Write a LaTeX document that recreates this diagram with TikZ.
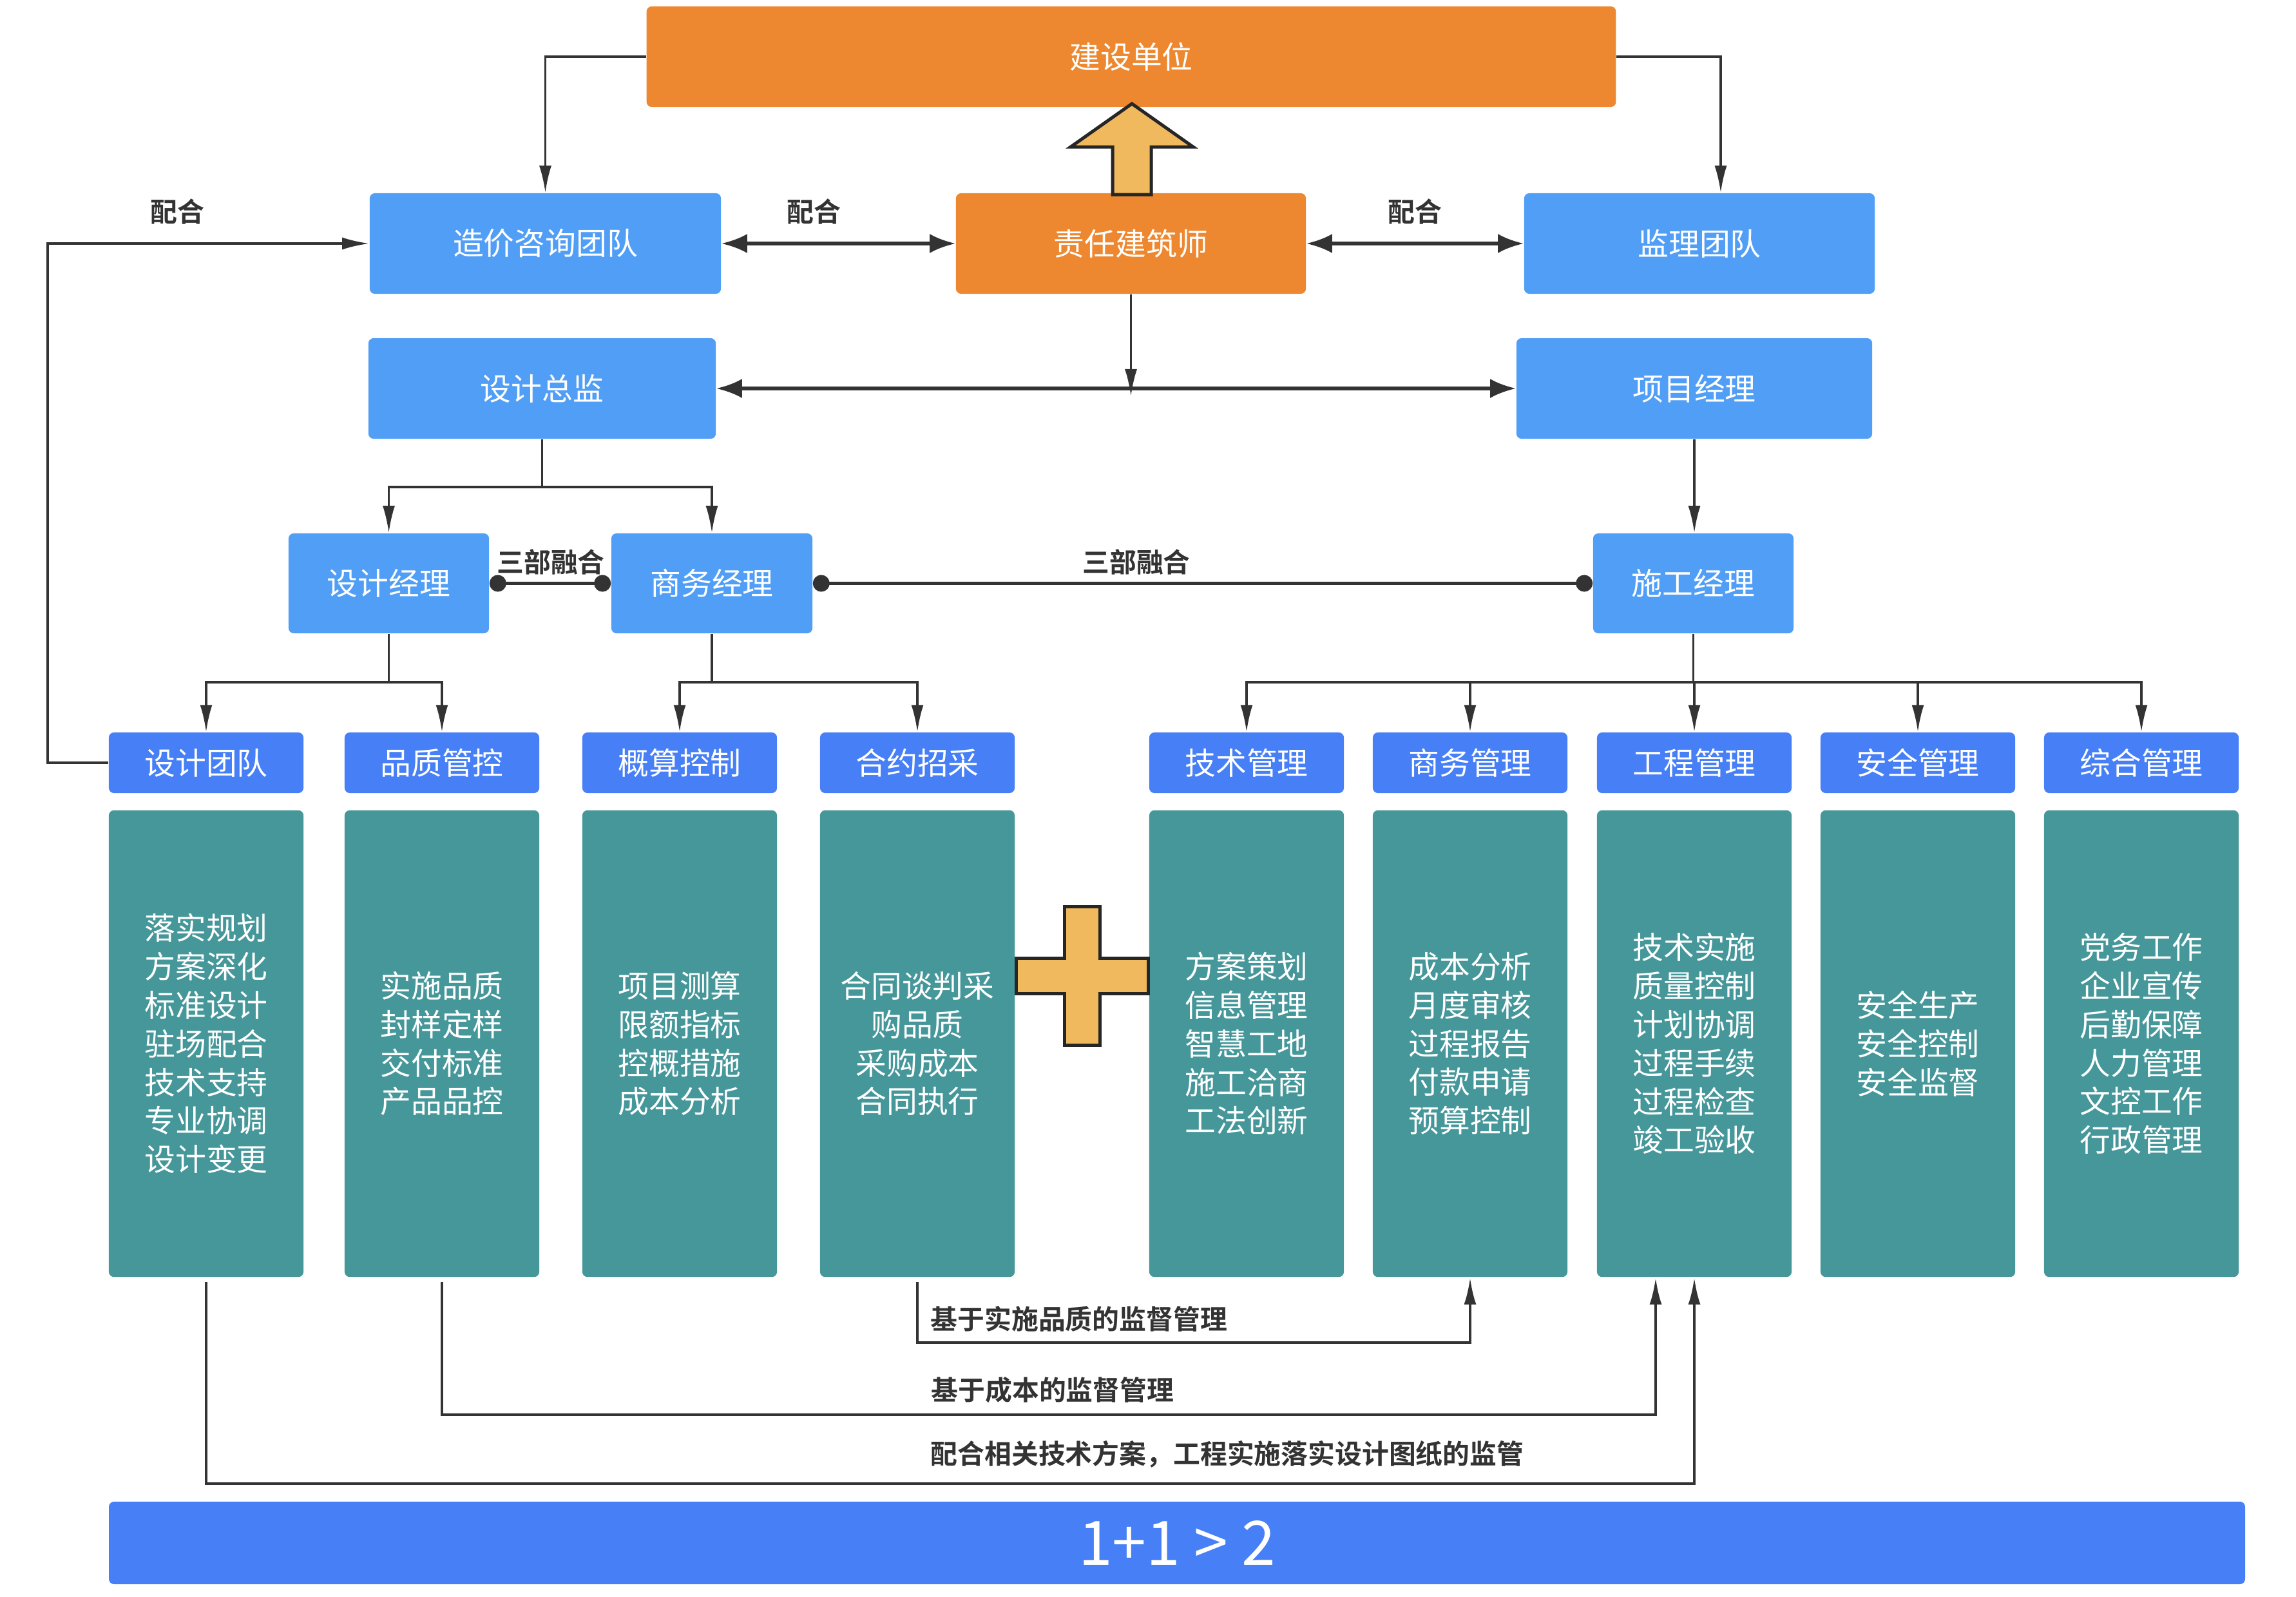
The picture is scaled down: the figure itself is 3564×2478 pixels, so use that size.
\documentclass[tikz,border=0pt]{standalone}
\usepackage{fontspec}
\setmainfont{Noto Sans CJK SC}[BoldFont={Noto Sans CJK SC Bold}]
\usetikzlibrary{arrows.meta,calc}
\definecolor{orangebox}{HTML}{ED8830}
\definecolor{bluebox}{HTML}{519EF6}
\definecolor{headblue}{HTML}{467FF6}
\definecolor{tealbox}{HTML}{45979A}
\definecolor{barblue}{HTML}{477FF6}
\definecolor{plusfill}{HTML}{F1B95E}
\definecolor{linec}{HTML}{333333}
\begin{document}
\begin{tikzpicture}[x=0.01cm,y=-0.01cm,
 base/.style={rounded corners=0.8mm, inner sep=0, text=white, align=center, font=\fontsize{13.6}{17}\selectfont},
 obox/.style={base, fill=orangebox},
 bbox/.style={base, fill=bluebox},
 hbox/.style={base, fill=headblue, minimum width=30.2mm, minimum height=9.4mm},
 tbox/.style={base, fill=tealbox, minimum width=30.2mm, minimum height=72.4mm},
 plain/.style={draw=linec, line width=0.35mm},
 conn/.style={draw=linec, line width=0.35mm, -{Latex[length=4.2mm,width=1.9mm]}},
 dbl/.style={draw=linec, line width=0.55mm, {Latex[length=4mm,width=3mm]}-{Latex[length=4mm,width=3mm]}},
 dotc/.style={draw=linec, line width=0.45mm, {Circle[length=2.6mm]}-{Circle[length=2.6mm]}},
 sup/.style={draw=linec, line width=0.45mm, -{Latex[length=4.2mm,width=1.9mm]}},
 lbl/.style={text=linec, font=\bfseries\fontsize{11.9}{14}\selectfont, inner sep=0},
 shapefill/.style={fill=plusfill, draw=black!85, line width=0.5mm, line join=miter},
]
\useasboundingbox (0,0) rectangle (3564,2478);

% top level
\node[obox, minimum width=150.4mm, minimum height=15.6mm] (jsdw) at (1756,88) {建设单位};
\node[bbox, minimum width=54.5mm, minimum height=15.6mm] (zj) at (846.5,378) {造价咨询团队};
\node[obox, minimum width=54.3mm, minimum height=15.6mm] (zr) at (1755.5,378) {责任建筑师};
\node[bbox, minimum width=54.4mm, minimum height=15.6mm] (jl) at (2638,378) {监理团队};
\node[bbox, minimum width=53.9mm, minimum height=15.6mm] (sjzj) at (841.5,603) {设计总监};
\node[bbox, minimum width=55.2mm, minimum height=15.6mm] (xmjl) at (2630,603) {项目经理};
\node[bbox, minimum width=31.1mm, minimum height=15.5mm] (sjjl) at (603.5,905.5) {设计经理};
\node[bbox, minimum width=31.2mm, minimum height=15.5mm] (swjl) at (1105,905.5) {商务经理};
\node[bbox, minimum width=31.1mm, minimum height=15.5mm] (sgjl) at (2628.5,905.5) {施工经理};

% headers
\node[hbox] (h1) at (320,1184) {设计团队};
\node[hbox] (h2) at (686,1184) {品质管控};
\node[hbox] (h3) at (1055,1184) {概算控制};
\node[hbox] (h4) at (1424,1184) {合约招采};
\node[hbox] (h5) at (1935,1184) {技术管理};
\node[hbox] (h6) at (2282,1184) {商务管理};
\node[hbox] (h7) at (2630,1184) {工程管理};
\node[hbox] (h8) at (2977,1184) {安全管理};
\node[hbox] (h9) at (3324,1184) {综合管理};

% bodies
\node[tbox] (b1) at (320,1620) {落实规划\\方案深化\\标准设计\\驻场配合\\技术支持\\专业协调\\设计变更};
\node[tbox] (b2) at (686,1620) {实施品质\\封样定样\\交付标准\\产品品控};
\node[tbox] (b3) at (1055,1620) {项目测算\\限额指标\\控概措施\\成本分析};
\node[tbox] (b4) at (1424,1620) {合同谈判采\\购品质\\采购成本\\合同执行};
\node[tbox] (b5) at (1935,1620) {方案策划\\信息管理\\智慧工地\\施工洽商\\工法创新};
\node[tbox] (b6) at (2282,1620) {成本分析\\月度审核\\过程报告\\付款申请\\预算控制};
\node[tbox] (b7) at (2630,1620) {技术实施\\质量控制\\计划协调\\过程手续\\过程检查\\竣工验收};
\node[tbox] (b8) at (2977,1620) {安全生产\\安全控制\\安全监督};
\node[tbox] (b9) at (3324,1620) {党务工作\\企业宣传\\后勤保障\\人力管理\\文控工作\\行政管理};

% bottom bar
\node[base, fill=barblue, minimum width=331.4mm, minimum height=12.8mm, font=\fontsize{27}{30}\selectfont] (bar) at (1827,2395) {1+1 > 2};

% top connectors
\coordinate (jlin) at ($(jl.north)+(33,0)$);
\draw[conn] (jsdw.west) -| (zj.north);
\draw[conn] (jsdw.east) -| (jlin);
\draw[dbl] (zj.east) -- (zr.west);
\draw[dbl] (zr.east) -- (jl.west);
\draw[conn] (h1.west) -- ++(-94,0) |- (zj.west);
\node[lbl] (l1) at (275,328) {配合};
\node[lbl] (l2) at (1263,328) {配合};
\node[lbl] (l3) at (2196,328) {配合};

\draw[dbl] (sjzj.east) -- (xmjl.west);
\coordinate (zrdown) at ($(zr.south |- sjzj.east)+(0,12)$);
\draw[conn] (zr.south) -- (zrdown);

% design branch
\coordinate (c1) at ($(sjzj.south)+(0,74)$);
\draw[plain] (sjzj.south) -- (c1);
\draw[conn] (c1) -| (sjjl.north);
\draw[conn] (c1) -| (swjl.north);
\draw[conn] (xmjl.south) -- (xmjl.south |- sgjl.north);

% three-part fusion
\draw[dotc] (sjjl.east) -- (swjl.west);
\draw[dotc] (swjl.east) -- (sgjl.west);
\node[lbl] (l4) at (855,872) {三部融合};
\node[lbl] (l5) at (1764,872) {三部融合};

% manager branches
\coordinate (c2) at ($(sjjl.south)+(0,75)$);
\draw[plain] (sjjl.south) -- (c2);
\draw[conn] (c2) -| (h1.north);
\draw[conn] (c2) -| (h2.north);
\coordinate (c3) at ($(swjl.south)+(0,75)$);
\draw[plain] (swjl.south) -- (c3);
\draw[conn] (c3) -| (h3.north);
\draw[conn] (c3) -| (h4.north);
\coordinate (c4) at ($(sgjl.south)+(0,75)$);
\draw[plain] (sgjl.south) -- (c4);
\foreach \h in {h5,h6,h7,h8,h9} {\draw[conn] (c4) -| (\h.north);}

% supervision connectors
\coordinate (gcin) at ($(b7.south)+(-60,0)$);
\draw[sup, shorten <=0.7mm] (b4.south) -- ++(0,101) -| (b6.south);
\draw[sup, shorten <=0.7mm] (b2.south) -- ++(0,213) -| (gcin);
\draw[sup, shorten <=0.7mm] (b1.south) -- ++(0,320) -| (b7.south);
\node[lbl, anchor=west] (l6) at (1444,2047) {基于实施品质的监督管理};
\node[lbl, anchor=west] (l7) at (1445,2158) {基于成本的监督管理};
\node[lbl, anchor=west] (l8) at (1444,2257) {配合相关技术方案，工程实施落实设计图纸的监管};

% big hollow arrow
\draw[shapefill] (1727,302) -- (1727,228) -- (1662,228) -- (1757,161) -- (1852,228) -- (1787,228) -- (1787,302) -- cycle;

% plus sign
\draw[shapefill] (1652,1407) -- (1707,1407) -- (1707,1487) -- (1782,1487) -- (1782,1542) -- (1707,1542) -- (1707,1622) -- (1652,1622) -- (1652,1542) -- (1577,1542) -- (1577,1487) -- (1652,1487) -- cycle;
\end{tikzpicture}
\end{document}
